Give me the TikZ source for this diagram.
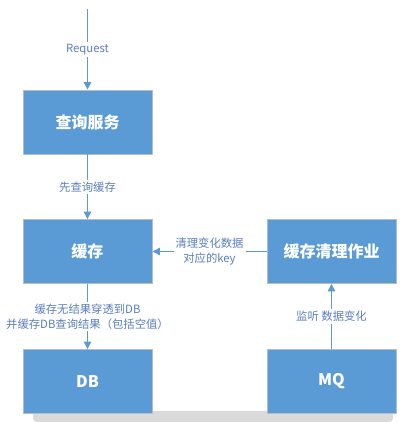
\documentclass[tikz,border=0pt]{standalone}
\usepackage{fontspec}
\setmainfont{Noto Sans CJK SC}
\usetikzlibrary{arrows.meta}
\definecolor{boxblue}{HTML}{5B9BD5}
\definecolor{edge}{HTML}{B4BCC6}
\definecolor{labtext}{HTML}{5A7EBF}
\definecolor{shelf}{HTML}{DADADA}

\begin{document}
\begin{tikzpicture}[x=.75pt,y=.75pt,>={Triangle[length=5.5pt,width=5.5pt]},every node/.style={font=\small},box/.style={draw=edge,fill=boxblue,line width=.7pt,minimum width=96.75pt,minimum height=48pt,inner sep=0pt,text=white,font=\bfseries\large},lab/.style={fill=white,text=labtext,font=\fontsize{8.5}{11}\selectfont,align=center,inner sep=1.5pt},flow/.style={->,boxblue,line width=.9pt}]
\path[use as bounding box] (0,0) rectangle (413,422);

\fill[shelf,rounded corners=3pt] (33,0) rectangle (393,11);

\coordinate (start) at (87.5,413);
\node[box] (query) at (87.5,300) {查询服务};
\node[box] (cache) at (87.5,170.5) {缓存};
\node[box] (clean) at (331.5,170.5) {缓存清理作业};
\node[box] (db) at (87.5,40.5) {DB};
\node[box] (mq) at (331.5,40.5) {MQ};

\draw[flow] (start)--node[lab] {Request} (query);
\draw[flow] (query)--node[lab] {先查询缓存} (cache);
\draw[flow] (cache)--node[lab] {缓存无结果穿透到DB\\并缓存DB查询结果（包括空值）} (db);
\draw[flow] (clean)--node[lab] {清理变化数据\\对应的key} (cache);
\draw[flow] (mq)--node[lab] {监听 数据变化} (clean);

\end{tikzpicture}
\end{document}
